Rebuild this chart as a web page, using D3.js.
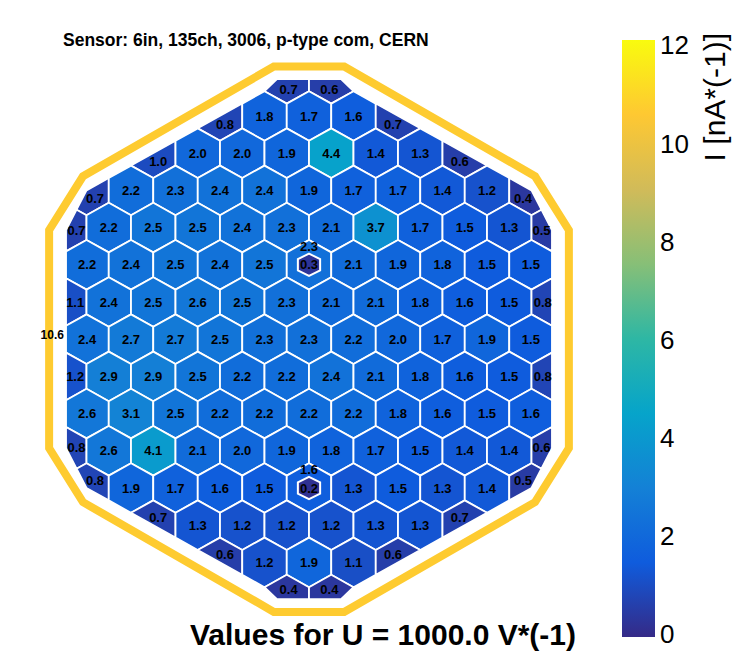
<!DOCTYPE html>
<html>
<head>
<meta charset="utf-8">
<script src="https://cdn.jsdelivr.net/npm/d3@7"></script>
<style>
  body { margin: 0; background: #fff; }
  text { font-family: "Liberation Sans", Arial, sans-serif; }
</style>
</head>
<body>
<div id="chart"></div>
<script>
const W = 746, H = 653

// hexagon rows, top to bottom (r in row units, first column in column units)
const rowR = [-7, -6, -5, -4, -3, -2, -1, 0, 1, 2, 3, 4, 5, 6, 7]
const rowFirstCol = [-0.5, -2, -3.5, -5, -5.5, -5, -5.5, -5, -5.5, -5, -5.5, -5, -3.5, -2, -0.5]
const rowValues = [
  [0.7, 0.6],
  [0.8, 1.8, 1.7, 1.6, 0.7],
  [1.0, 2.0, 2.0, 1.9, 4.4, 1.4, 1.3, 0.6],
  [0.7, 2.2, 2.3, 2.4, 2.4, 1.9, 1.7, 1.7, 1.4, 1.2, 0.4],
  [0.7, 2.2, 2.5, 2.5, 2.4, 2.3, 2.1, 3.7, 1.7, 1.5, 1.3, 0.5],
  [2.2, 2.4, 2.5, 2.4, 2.5, 2.3, 2.1, 1.9, 1.8, 1.5, 1.5],
  [1.1, 2.4, 2.5, 2.6, 2.5, 2.3, 2.1, 2.1, 1.8, 1.6, 1.5, 0.8],
  [2.4, 2.7, 2.7, 2.5, 2.3, 2.3, 2.2, 2.0, 1.7, 1.9, 1.5],
  [1.2, 2.9, 2.9, 2.5, 2.2, 2.2, 2.4, 2.1, 1.8, 1.6, 1.5, 0.8],
  [2.6, 3.1, 2.5, 2.2, 2.2, 2.2, 2.2, 1.8, 1.6, 1.5, 1.6],
  [0.8, 2.6, 4.1, 2.1, 2.0, 1.9, 1.8, 1.7, 1.5, 1.4, 1.4, 0.6],
  [0.8, 1.9, 1.7, 1.6, 1.5, 1.6, 1.3, 1.5, 1.3, 1.4, 0.5],
  [0.7, 1.3, 1.2, 1.2, 1.2, 1.3, 1.3, 0.7],
  [0.6, 1.2, 1.9, 1.1, 0.6],
  [0.4, 0.4]
]

// small calibration cells sitting inside a full cell
const calibCol = [0, 0]
const calibRow = [-2, 4]
const calibValues = [0.3, 0.2]

// guard ring
const guardValue = 10.6

// colour bar
const zMax = 12
const barTicks = [0, 2, 4, 6, 8, 10, 12]
const barTitle = "I [nA*(-1)]"
const topTitle = "Sensor: 6in, 135ch, 3006, p-type com, CERN"
const bottomTitle = "Values for U = 1000.0 V*(-1)"

// ROOT kBird palette
const palStops = [0.0, 0.125, 0.25, 0.375, 0.5, 0.625, 0.75, 0.875, 1.0]
const palR = [0.2082, 0.0592, 0.0780, 0.0232, 0.1802, 0.5301, 0.8186, 0.9956, 0.9764]
const palG = [0.1664, 0.3599, 0.5041, 0.6419, 0.7178, 0.7492, 0.7328, 0.7862, 0.9832]
const palB = [0.5293, 0.8684, 0.8385, 0.7914, 0.6425, 0.4662, 0.3499, 0.1968, 0.0539]
const palColors = palStops.map((s, i) => d3.rgb(palR[i]*255, palG[i]*255, palB[i]*255).formatHex())

const color = d3.scaleLinear()
  .domain(palStops.map(s => s*zMax))
  .range(palColors)
  .interpolate(d3.interpolateRgb)
  .clamp(true)

// lattice -> pixels
const x = d3.scaleLinear().domain([-5, 5]).range([86.5, 531.5])
const y = d3.scaleLinear().domain([-7, 7]).range([78.8, 599.6])

const hexShape = [[0, -2/3], [0.5, -1/3], [0.5, 1/3], [0, 2/3], [-0.5, 1/3], [-0.5, -1/3]]

// sensor cut, in lattice units (convex pieces)
const bodyCut = [[0.52, -6.99], [5, -4], [5.46, -2.93], [5.46, 2.93], [5, 4], [0.52, 6.99],
                 [-0.52, 6.99], [-5, 4], [-5.46, 2.93], [-5.46, -2.93], [-5, -4], [-0.52, -6.99]]
const capCut = [[-0.72, -6.99], [0.72, -6.99], [1, -6.667], [1, 6.667], [0.72, 6.99],
                [-0.72, 6.99], [-1, 6.667], [-1, -6.667]]
const guardLine = [[0.79, -7.33], [5.08, -4.38], [5.84, -2.93], [5.84, 2.93], [5.08, 4.38], [0.79, 7.33],
                   [-0.79, 7.33], [-5.08, 4.38], [-5.84, 2.93], [-5.84, -2.93], [-5.08, -4.38], [-0.79, -7.33]]

function clipPoly(subject, cut) {
  let out = subject
  for (let i = 0; i < cut.length; i++) {
    const a = cut[i], b = cut[(i+1) % cut.length]
    const side = p => (b[0]-a[0])*(p[1]-a[1]) - (b[1]-a[1])*(p[0]-a[0])
    const input = out
    out = []
    for (let j = 0; j < input.length; j++) {
      const p = input[j], q = input[(j+1) % input.length]
      const sp = side(p), sq = side(q)
      if (sp >= 0) out.push(p)
      if ((sp >= 0) !== (sq >= 0)) {
        const t = sp/(sp - sq)
        out.push([p[0] + t*(q[0]-p[0]), p[1] + t*(q[1]-p[1])])
      }
    }
    if (!out.length) break
  }
  return out
}

const toPx = pts => pts.map(p => [x(p[0]), y(p[1])])

const cells = []
rowValues.forEach((vals, i) => {
  vals.forEach((v, k) => {
    const c = rowFirstCol[i] + k, r = rowR[i]
    const hex = hexShape.map(p => [c + p[0], r + p[1]])
    const poly = toPx(clipPoly(hex, Math.abs(r) === 7 ? capCut : bodyCut))
    const isCalibHost = calibCol.some((cc, j) => cc === c && calibRow[j] === r)
    const cen = d3.polygonCentroid(poly)
    cells.push({v, poly, lx: cen[0], ly: isCalibHost ? y(r - 0.5) : cen[1]})
  })
})

const svg = d3.select("#chart").append("svg")
  .attr("width", W).attr("height", H)

// guard ring
svg.append("path")
  .attr("d", d3.line().curve(d3.curveLinearClosed)(toPx(guardLine)))
  .attr("fill", "none")
  .attr("stroke", color(guardValue))
  .attr("stroke-width", 8)
  .attr("stroke-linejoin", "miter")

svg.append("text")
  .attr("x", x(-5.77)).attr("y", y(-0.13))
  .attr("dy", "0.36em")
  .attr("text-anchor", "middle")
  .attr("font-size", 12).attr("font-weight", "bold")
  .text(guardValue.toFixed(1))

const line = d3.line().curve(d3.curveLinearClosed)

svg.append("g").selectAll("path")
  .data(cells).enter()
  .append("path")
  .attr("d", d => line(d.poly))
  .attr("fill", d => color(d.v))
  .attr("stroke", "#fff")
  .attr("stroke-width", 1.8)
  .attr("stroke-linejoin", "round")

const calib = calibValues.map((v, j) => {
  const pts = hexShape.map(p => [calibCol[j] + p[0]*0.5, calibRow[j] + p[1]*0.45])
  return {v, poly: toPx(pts), lx: x(calibCol[j]), ly: y(calibRow[j])}
})

svg.append("g").selectAll("path")
  .data(calib).enter()
  .append("path")
  .attr("d", d => line(d.poly))
  .attr("fill", d => color(d.v))
  .attr("stroke", "#fff")
  .attr("stroke-width", 2)

svg.append("g").selectAll("text")
  .data(cells.concat(calib)).enter()
  .append("text")
  .attr("x", d => d.lx).attr("y", d => d.ly)
  .attr("dy", "0.36em")
  .attr("text-anchor", "middle")
  .attr("font-size", 13).attr("font-weight", "bold")
  .attr("fill", "#000")
  .text(d => d.v.toFixed(1))

// titles
svg.append("text")
  .attr("x", 63).attr("y", 46)
  .attr("font-size", 17.5).attr("font-weight", "bold")
  .text(topTitle)

svg.append("text")
  .attr("x", 190).attr("y", 645)
  .attr("font-size", 30).attr("font-weight", "bold")
  .text(bottomTitle)

// colour bar
const barY = d3.scaleLinear().domain([0, zMax]).range([634, 45])
const grad = svg.append("defs").append("linearGradient")
  .attr("id", "bar").attr("x1", 0).attr("y1", 1).attr("x2", 0).attr("y2", 0)
grad.selectAll("stop").data(palStops).enter().append("stop")
  .attr("offset", d => d)
  .attr("stop-color", (d, i) => palColors[i])

svg.append("rect")
  .attr("x", 622).attr("width", 33)
  .attr("y", barY(zMax) - 5).attr("height", barY(0) - barY(zMax) + 8)
  .attr("fill", "url(#bar)")

svg.append("g").selectAll("text")
  .data(barTicks).enter()
  .append("text")
  .attr("x", 660).attr("y", d => barY(d))
  .attr("dy", "0.36em")
  .attr("font-size", 26)
  .text(d => d)

svg.append("text")
  .attr("transform", "translate(725,33) rotate(-90)")
  .attr("text-anchor", "end")
  .attr("font-size", 30)
  .text(barTitle)
</script>
</body>
</html>
